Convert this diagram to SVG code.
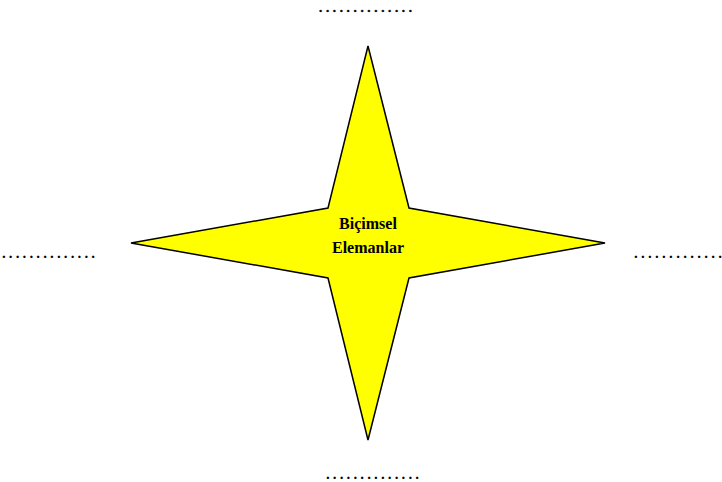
<svg xmlns="http://www.w3.org/2000/svg" width="722" height="482" viewBox="0 0 722 482">
<style>
.dots{font-family:"Liberation Serif","Times New Roman",serif;font-size:15px;font-weight:bold;fill:#000}
.dt{font-size:13px}
.lbl{font-family:"Liberation Serif","Times New Roman",serif;font-size:16px;font-weight:bold;fill:#000;text-anchor:middle}
</style>
<rect width="722" height="482" fill="#fff"/>
<g id="star">
<polygon points="368,46 409,208 605,243 409,278 368,440 328,278 131,243 328,208" fill="#ffff00" stroke="#000" stroke-width="1.5" stroke-linejoin="miter"/>
<text class="lbl" x="368" y="229">Biçimsel</text>
<text class="lbl" x="368" y="253">Elemanlar</text>
</g>
<g id="top-label"><text class="dots dt" x="319" y="12" textLength="93" lengthAdjust="spacing" stroke="#000" stroke-width="0.4">..............</text></g>
<g id="left-label"><text class="dots" x="2" y="258" textLength="93" lengthAdjust="spacing">..............</text></g>
<g id="right-label"><text class="dots" x="634" y="258" textLength="88" lengthAdjust="spacing">.............</text></g>
<g id="bottom-label"><text class="dots" x="326" y="479" textLength="93" lengthAdjust="spacing">..............</text></g>
<g id="connectors"></g>
</svg>
